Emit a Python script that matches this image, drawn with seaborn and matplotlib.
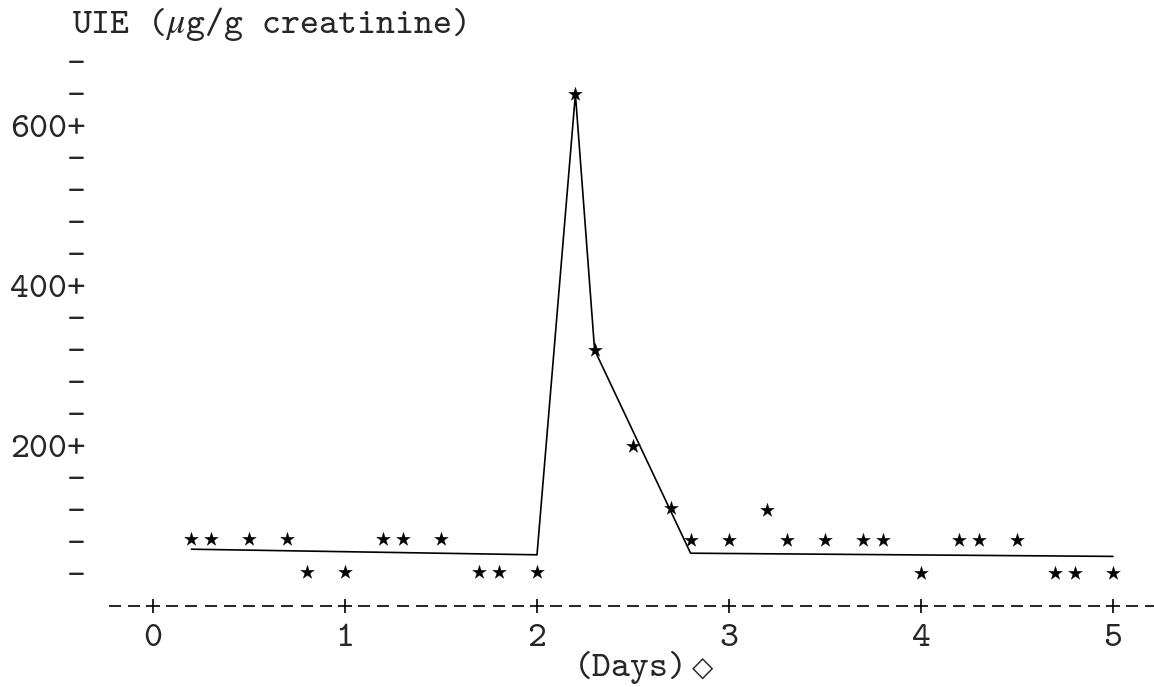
import numpy as np
import pandas as pd
import matplotlib
matplotlib.use("Agg")
import matplotlib.pyplot as plt
import seaborn as sns

# ---- data ----
days = [0.2, 0.3, 0.5, 0.7, 0.8, 1.0, 1.2, 1.3, 1.5, 1.7, 1.8, 2.0,
        2.2, 2.3, 2.5, 2.7, 2.8, 3.0, 3.2, 3.3, 3.5, 3.7, 3.8, 4.0,
        4.2, 4.3, 4.5, 4.7, 4.8, 5.0]
uie = [84, 84, 84, 84, 43, 43, 84, 84, 84, 43, 43, 43,
       640, 320, 200, 122, 82, 82, 120, 82, 82, 82, 82, 41,
       82, 82, 82, 41, 41, 41]
fit_days = [0.2, 2.0, 2.2, 2.3, 2.8, 5.0]
fit_uie = [71, 64, 640, 320, 66, 62]

ytick_vals = list(range(40, 720, 40))
ytick_text = [f"{v}+" if v % 200 == 0 else "-" for v in ytick_vals]
xtick_vals = [0, 1, 2, 3, 4, 5]
xtick_text = ["0", "1", "2", "3", "4", "5"]
title_text = r"UIE ($\mu$g/g creatinine)"
xlabel_text = "(Days)"
xlabel_sym = "\u25C7"

sns.set_style("white")
MONO = ["cmtt10", "Liberation Mono", "DejaVu Sans Mono"]
plt.rcParams["font.family"] = MONO
plt.rcParams["mathtext.fontset"] = "stix"
FS = 26

W, H = 1154, 687
fig = plt.figure(figsize=(W / 100, H / 100), dpi=100)
x0 = -0.25; x1 = 5.2
y0 = -10; y1 = 720
px_per_day = 192.0
left_px = 153 + x0 * px_per_day
right_px = 153 + x1 * px_per_day
zero_px = 606.0
px_per_unit = 0.8
bottom_px = zero_px - y0 * px_per_unit
top_px = zero_px - y1 * px_per_unit
ax = fig.add_axes([left_px / W, 1 - bottom_px / H,
                   (right_px - left_px) / W, (bottom_px - top_px) / H])
ax.set_xlim(x0, x1)
ax.set_ylim(y0, y1)

pts = pd.DataFrame({"day": days, "uie": uie})
fit = pd.DataFrame({"day": fit_days, "uie": fit_uie})

sns.lineplot(data=fit, x="day", y="uie", ax=ax, color="black",
             linewidth=1.2, sort=False, estimator=None)
sns.scatterplot(data=pts, x="day", y="uie", ax=ax, marker="*",
                s=110, color="black", edgecolor="black", linewidth=0.2)

dash_x = [round(v, 1) for v in np.arange(-0.2, 5.21, 0.1)]
dash_only = [v for v in dash_x if abs(v - round(v)) > 1e-6]
ax.plot(dash_only, [0] * len(dash_only), linestyle="none", marker="_",
        markersize=8, markeredgewidth=1.2, color="black", clip_on=False)
ax.plot(xtick_vals, [0] * len(xtick_vals), linestyle="none", marker="+",
        markersize=10, markeredgewidth=1.2, color="black", clip_on=False)

for s in ax.spines.values():
    s.set_visible(False)
ax.set_yticks(ytick_vals)
ax.set_yticklabels(ytick_text, fontsize=FS)
ax.set_xticks(xtick_vals)
ax.set_xticklabels(xtick_text, fontsize=FS)
ax.tick_params(axis="both", length=0)
ax.tick_params(axis="y", pad=14)
ax.tick_params(axis="x", pad=7)
ax.set_xlabel("")
ax.set_ylabel("")

fig.text(72 / W, 1 - 33 / H, title_text, fontsize=FS, ha="left", va="baseline")
fig.text(574 / W, 1 - 676 / H, xlabel_text, fontsize=FS, ha="left", va="baseline")
fig.text(692 / W, 1 - 676 / H, xlabel_sym, fontsize=20, ha="left",
         va="baseline", family=["DejaVu Sans", "DejaVu Sans Mono"])

fig.savefig("out.png", dpi=100, facecolor="white")
